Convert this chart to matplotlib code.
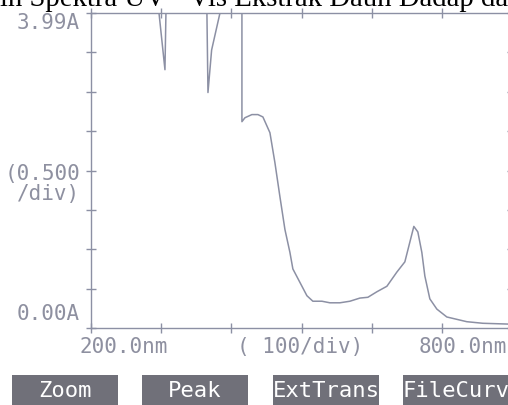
import matplotlib
matplotlib.use("Agg")
from matplotlib import pyplot as plt
from matplotlib.patches import Rectangle

# spectrum (nm, absorbance); 4.0 = off scale at top
wl = [200, 296.9, 305.4, 306.8, 365.2, 366.7, 371.9, 383.8, 415.1, 415.1,
      419.4, 429.3, 437.9, 445.0, 455.0, 462.1, 469.2, 476.4, 483.5, 487.7,
      497.7, 507.7, 516.2, 529.1, 540.5, 554.7, 569.0, 583.2, 594.6, 607.4,
      621.7, 635.9, 647.3, 654.4, 660.1, 665.8, 671.5, 675.8, 682.9, 692.9,
      707.1, 735.6, 758.4, 794.0, 800]
absb = [4.0, 4.0, 3.28, 4.0, 4.0, 2.99, 3.53, 4.0, 4.0, 2.62,
        2.67, 2.71, 2.71, 2.68, 2.48, 2.10, 1.67, 1.25, 0.96, 0.75,
        0.58, 0.41, 0.34, 0.34, 0.32, 0.32, 0.34, 0.38, 0.39, 0.46,
        0.53, 0.71, 0.84, 1.09, 1.29, 1.22, 0.96, 0.66, 0.37, 0.24,
        0.14, 0.08, 0.06, 0.05, 0.05]

x_ticks = [200, 300, 400, 500, 600, 700, 800]
y_ticks = [0, 0.5, 1.0, 1.5, 2.0, 2.5, 3.0, 3.5, 4.0]
buttons = ["Zoom", "Peak", "ExtTrans", "FileCurv"]

W, H = 508, 405
lc = "#8c90a4"   # grey-blue of the scan
tc = "#8e90a0"
mono = "DejaVu Sans Mono"

fig = plt.figure(figsize=(W/100, H/100), dpi=100)
fig.patch.set_facecolor("white")

# axes box in pixels: left 91, right 512 (off image), top 13, bottom 328
ax = fig.add_axes([91/W, (H-328)/H, (512-91)/W, (328-13)/H])
ax.plot(wl, absb, color=lc, lw=1.1)
ax.set_xlim(200, 800)
ax.set_ylim(0, 4.0)
ax.set_xticks(x_ticks)
ax.set_yticks(y_ticks)
ax.tick_params(direction="inout", length=7, width=1, color=lc,
               labelbottom=False, labelleft=False, top=True, right=True)
for s in ax.spines.values():
    s.set_color(lc)
    s.set_linewidth(1)

def px(x, y):
    return x/W, 1 - y/H

# left labels
fig.text(*px(80, 23), "3.99A", ha="right", va="center", fontsize=15, family=mono, color=tc)
fig.text(*px(80, 174), "(0.500", ha="right", va="center", fontsize=15, family=mono, color=tc)
fig.text(*px(80, 194), "/div)", ha="right", va="center", fontsize=15, family=mono, color=tc)
fig.text(*px(80, 314), "0.00A", ha="right", va="center", fontsize=15, family=mono, color=tc)

# bottom labels
fig.text(*px(124, 347), "200.0nm", ha="center", va="center", fontsize=15, family=mono, color=tc)
fig.text(*px(300, 347), "( 100/div)", ha="center", va="center", fontsize=15, family=mono, color=tc)
fig.text(*px(463, 347), "800.0nm", ha="center", va="center", fontsize=15, family=mono, color=tc)

# soft-key buttons
bx = [12, 142, 273, 403]
for x0, name in zip(bx, buttons):
    fig.add_artist(Rectangle(px(x0, 405), 106/W, 30/H, transform=fig.transFigure,
                             facecolor="#707079", edgecolor="none"))
    fig.text(*px(x0 + 53, 391), name, ha="center", va="center", fontsize=16,
             family=mono, color="white")

# caption from the document, cut off at the top
fig.text(0, 1 - 6/H, "in Spektra UV - Vis Ekstrak Daun Dadap da", ha="left",
         va="baseline", fontsize=20.7, family="Liberation Serif", color="black")

plt.savefig("out.png", dpi=100)
